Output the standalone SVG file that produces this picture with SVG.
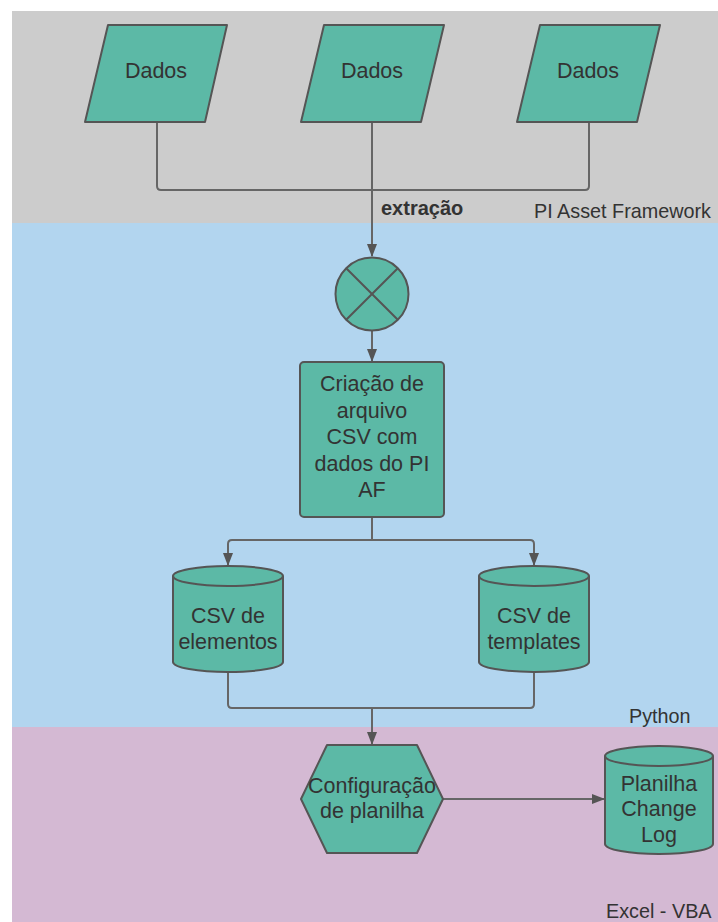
<svg xmlns="http://www.w3.org/2000/svg" width="718" height="922" viewBox="0 0 718 922">
  <style>
    .lane-label { font-family: "Liberation Sans", Arial, sans-serif; font-size: 19.8px; fill: #333333; }
    .node-shape { fill: #5cb9a6; stroke: #555555; stroke-width: 2; stroke-linejoin: round; }
    .node-text { font-family: "Liberation Sans", Arial, sans-serif; font-size: 21.5px; fill: #333333; text-anchor: middle; }
    .conn { fill: none; stroke: #666666; stroke-width: 2; stroke-linejoin: round; }
    .edge-label { font-family: "Liberation Sans", Arial, sans-serif; font-size: 20px; font-weight: bold; fill: #333333; }
  </style>
  <defs>
    <marker id="arrow" viewBox="0 0 13 10" refX="12" refY="5" markerWidth="13" markerHeight="10" markerUnits="userSpaceOnUse" orient="auto">
      <path d="M0,0 L13,5 L0,10 Z" fill="#555555"/>
    </marker>
  </defs>

  <rect width="718" height="922" fill="#ffffff"/>

  <!-- swimlanes -->
  <g id="lanes">
    <rect x="12" y="11" width="706" height="212" fill="#cccccc"/>
    <rect x="12" y="223" width="706" height="504" fill="#b2d5ef"/>
    <rect x="12" y="727" width="706" height="195" fill="#d4b9d3"/>
    <text class="lane-label" x="534" y="218">PI Asset Framework</text>
    <text class="lane-label" x="629" y="723">Python</text>
    <text class="lane-label" x="606" y="918">Excel - VBA</text>
  </g>

  <!-- connectors -->
  <g id="connectors">
    <path class="conn" d="M157,122 V186 Q157,190 161,190 H585 Q589,190 589,186 V122"/>
    <path class="conn" d="M372,122 V256" marker-end="url(#arrow)"/>
    <path class="conn" d="M372,331 V361" marker-end="url(#arrow)"/>
    <path class="conn" d="M372,517 V540"/>
    <path class="conn" d="M372,540 H232 Q228,540 228,544 V565" marker-end="url(#arrow)"/>
    <path class="conn" d="M372,540 H530 Q534,540 534,544 V565" marker-end="url(#arrow)"/>
    <path class="conn" d="M228,672 V704 Q228,708 232,708 H530 Q534,708 534,704 V672"/>
    <path class="conn" d="M372,708 V744" marker-end="url(#arrow)"/>
    <path class="conn" d="M443,799 H604" marker-end="url(#arrow)"/>
    <text class="edge-label" x="381" y="215">extração</text>
  </g>

  <!-- input data -->
  <g id="dados-1">
    <path class="node-shape" d="M108,25 H227 L205,122 H85 Z"/>
    <text class="node-text" x="156" y="78">Dados</text>
  </g>
  <g id="dados-2">
    <path class="node-shape" d="M324,25 H444 L421,122 H301 Z"/>
    <text class="node-text" x="372" y="78">Dados</text>
  </g>
  <g id="dados-3">
    <path class="node-shape" d="M540,25 H660 L637,122 H517 Z"/>
    <text class="node-text" x="588" y="78">Dados</text>
  </g>

  <!-- merge / extraction -->
  <g id="merge">
    <circle class="node-shape" cx="372" cy="294" r="36.5"/>
    <path d="M346.2,268.2 L397.8,319.8 M397.8,268.2 L346.2,319.8" stroke="#555555" stroke-width="2"/>
  </g>

  <!-- CSV creation -->
  <g id="criacao-csv">
    <rect class="node-shape" x="300" y="362" width="144" height="155" rx="4"/>
    <text class="node-text" x="372" y="391">Criação de</text>
    <text class="node-text" x="372" y="418">arquivo</text>
    <text class="node-text" x="372" y="444">CSV com</text>
    <text class="node-text" x="372" y="471">dados do PI</text>
    <text class="node-text" x="372" y="497">AF</text>
  </g>

  <!-- CSV outputs -->
  <g id="csv-elementos">
    <path class="node-shape" d="M173,576 A55,10 0 0 1 283,576 V662 A55,10 0 0 1 173,662 Z"/>
    <path class="node-shape" fill="none" d="M173,576 A55,10 0 0 0 283,576"/>
    <text class="node-text" x="228" y="623">CSV de</text>
    <text class="node-text" x="228" y="649">elementos</text>
  </g>
  <g id="csv-templates">
    <path class="node-shape" d="M479,576 A55,10 0 0 1 589,576 V662 A55,10 0 0 1 479,662 Z"/>
    <path class="node-shape" fill="none" d="M479,576 A55,10 0 0 0 589,576"/>
    <text class="node-text" x="534" y="623">CSV de</text>
    <text class="node-text" x="534" y="649">templates</text>
  </g>

  <!-- spreadsheet setup -->
  <g id="configuracao">
    <path class="node-shape" d="M301,799 L327,745 H417 L443,799 L417,853 H327 Z"/>
    <text class="node-text" x="372" y="793">Configuração</text>
    <text class="node-text" x="372" y="818">de planilha</text>
  </g>

  <!-- change log spreadsheet -->
  <g id="planilha-change-log">
    <path class="node-shape" d="M605,756 A54,10 0 0 1 713,756 V844 A54,10 0 0 1 605,844 Z"/>
    <path class="node-shape" fill="none" d="M605,756 A54,10 0 0 0 713,756"/>
    <text class="node-text" x="659" y="791">Planilha</text>
    <text class="node-text" x="659" y="816">Change</text>
    <text class="node-text" x="659" y="842">Log</text>
  </g>
</svg>
